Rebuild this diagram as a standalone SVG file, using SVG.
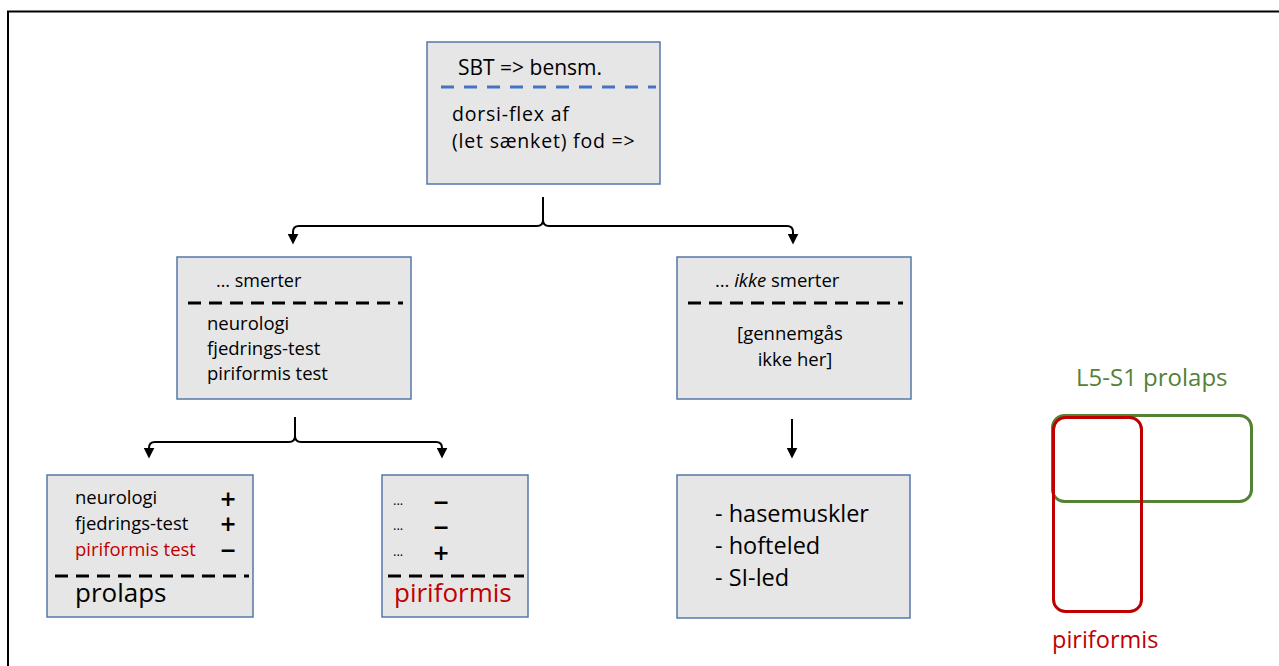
<svg xmlns="http://www.w3.org/2000/svg" width="1279" height="666" viewBox="0 0 1279 666">
  <defs>
    <style>
      text { font-family: "Open Sans", "Liberation Sans", sans-serif; fill: #000; }
      .box { fill: #E7E6E6; stroke: #5677A8; stroke-width: 1.5; }
      .dash { stroke: #000; stroke-width: 3; stroke-dasharray: 13 8; fill: none; }
      .conn { stroke: #000; stroke-width: 2; fill: none; }
      .red { fill: #C00000; }
      text.sign { font-family: "DejaVu Sans", sans-serif; font-weight: bold; font-size: 20.5px; text-anchor: middle; }
    </style>
    <marker id="ah" markerWidth="11" markerHeight="11" viewBox="0 0 10 10" refX="4" refY="5" orient="auto" markerUnits="userSpaceOnUse">
      <path d="M0,0 L10,5 L0,10 z" fill="#000"/>
    </marker>
  </defs>
  <rect x="0" y="0" width="1279" height="666" fill="#fff"/>
  <rect x="8" y="11.5" width="1300" height="700" fill="none" stroke="#000" stroke-width="2"/>

  <g id="top">
    <rect class="box" x="427" y="42" width="233" height="142"/>
    <text x="458" y="75" font-size="21">SBT =&gt; bensm.</text>
    <line x1="441" y1="87" x2="656" y2="87" stroke="#4472C4" stroke-width="3" stroke-dasharray="13 10"/>
    <text x="452" y="121" font-size="19.5" letter-spacing="0.8">dorsi-flex af</text>
    <text x="452" y="148" font-size="19.5" letter-spacing="0.8">(let sænket) fod =&gt;</text>
  </g>

  <g id="smerter">
    <rect class="box" x="177" y="257" width="234" height="142"/>
    <text x="216" y="287" font-size="18">… smerter</text>
    <line class="dash" x1="188" y1="303" x2="403" y2="303"/>
    <text x="207" y="330" font-size="18.5">neurologi</text>
    <text x="207" y="355" font-size="18.5">fjedrings-test</text>
    <text x="207" y="380" font-size="18.5">piriformis test</text>
  </g>

  <g id="ikke-smerter">
    <rect class="box" x="677" y="257" width="234" height="142"/>
    <text x="715" y="287" font-size="18.5">… <tspan font-style="italic">ikke</tspan> smerter</text>
    <line class="dash" x1="688" y1="303" x2="903" y2="303"/>
    <text x="790" y="340" font-size="18.5" text-anchor="middle">[gennemgås</text>
    <text x="795" y="366" font-size="18.5" text-anchor="middle">ikke her]</text>
  </g>

  <g id="prolaps">
    <rect class="box" x="47" y="475" width="206" height="142"/>
    <text x="75" y="504" font-size="18.5">neurologi</text>
    <text x="75" y="530" font-size="18.5">fjedrings-test</text>
    <text x="75" y="556" font-size="18.5" class="red">piriformis test</text>
    <text x="228" y="506" class="sign">+</text>
    <text x="228" y="531" class="sign">+</text>
    <text x="228" y="557" class="sign">−</text>
    <line class="dash" x1="55" y1="576" x2="249" y2="576"/>
    <text x="75" y="602" font-size="26">prolaps</text>
  </g>

  <g id="piriformis">
    <rect class="box" x="382" y="475" width="146" height="142"/>
    <text x="393" y="505" font-size="13">...</text>
    <text x="393" y="530" font-size="13">...</text>
    <text x="393" y="556" font-size="13">...</text>
    <text x="441" y="509" class="sign">−</text>
    <text x="441" y="534" class="sign">−</text>
    <text x="441" y="560" class="sign">+</text>
    <line class="dash" x1="388" y1="576" x2="524" y2="576"/>
    <text x="394" y="602" font-size="26" class="red">piriformis</text>
  </g>

  <g id="hasemuskler">
    <rect class="box" x="677" y="475" width="233" height="143"/>
    <text x="715" y="522" font-size="23.5">- hasemuskler</text>
    <text x="715" y="554" font-size="23.5">- hofteled</text>
    <text x="715" y="586" font-size="23.5">- SI-led</text>
  </g>

  <g id="venn">
    <text x="1076" y="386" font-size="24" style="fill:#548235">L5-S1 prolaps</text>
    <rect x="1052.5" y="415.5" width="199" height="86" rx="12" fill="none" stroke="#548235" stroke-width="3"/>
    <rect x="1053.5" y="417.5" width="88" height="194" rx="12" fill="none" stroke="#C00000" stroke-width="3"/>
    <text x="1052" y="648" font-size="23.5" class="red">piriformis</text>
  </g>

  <g id="connectors">
    <path class="conn" d="M543,197 L543,220 Q543,226 537,226 L299,226 Q293,226 293,232 L293,238" marker-end="url(#ah)"/>
    <path class="conn" d="M543,220 Q543,226 549,226 L787,226 Q793,226 793,232 L793,238" marker-end="url(#ah)"/>
    <path class="conn" d="M295,417 L295,436 Q295,442 289,442 L155,442 Q149,442 149,448 L149,452" marker-end="url(#ah)"/>
    <path class="conn" d="M295,436 Q295,442 301,442 L436,442 Q442,442 442,448 L442,452" marker-end="url(#ah)"/>
    <path class="conn" d="M792,419 L792,452" stroke-width="3" marker-end="url(#ah)"/>
  </g>
</svg>
